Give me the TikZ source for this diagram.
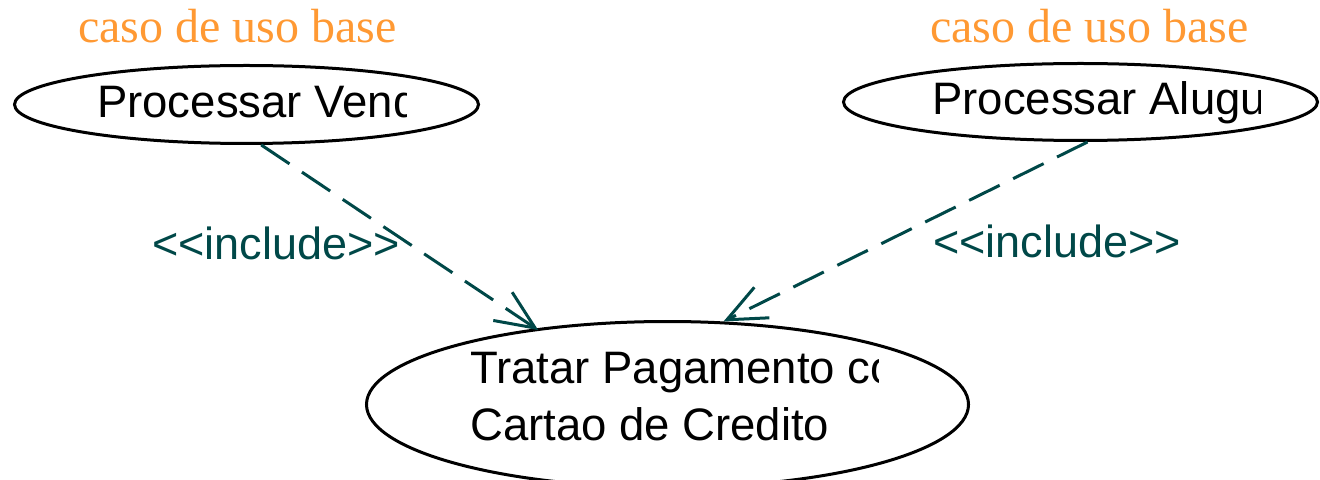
\documentclass[tikz,border=0pt]{standalone}
\usepackage{fontspec}
\setmainfont{Liberation Sans}
\newfontfamily\seriffam{Liberation Serif}
\usetikzlibrary{arrows.meta,shapes.geometric}
\definecolor{inclteal}{RGB}{0,72,72}
\definecolor{noteorange}{RGB}{255,153,51}
\begin{document}
\begin{tikzpicture}[x=1bp,y=-1bp,
  uc/.style={draw=black, line width=3bp, ellipse, inner sep=0pt},
  uctext/.style={anchor=base west, inner sep=0pt, font=\fontsize{45.5bp}{54bp}\selectfont},
  note/.style={anchor=base west, inner sep=0pt, text=noteorange, font=\seriffam\fontsize{48bp}{57bp}\selectfont},
  stereo/.style={anchor=base west, inner sep=0pt, text=inclteal, font=\fontsize{45bp}{54bp}\selectfont},
  incl/.style={draw=inclteal, line width=3bp, dash pattern=on 34bp off 15bp,
    -{Straight Barb[length=39bp,width=34bp]}}]
\useasboundingbox (0,0) rectangle (1320,480);

% use case ellipses
\node[uc, minimum width=464bp, minimum height=78bp] (v) at (246.5,104.5) {};
\node[uc, minimum width=474bp, minimum height=77bp] (a) at (1080.5,102) {};
\node[uc, minimum width=602bp, minimum height=166bp] (p) at (667.5,404.5) {};

% clipped use case names
\begin{scope}
  \clip (0,0) rectangle (406,480);
  \node[uctext] (vt) at (97,118) {Processar Venda};
\end{scope}
\begin{scope}
  \clip (0,0) rectangle (1260,480);
  \node[uctext] (at) at (932,115) {Processar Aluguel};
\end{scope}
\begin{scope}
  \clip (0,0) rectangle (878,480);
  \node[uctext] (pt1) at (470,383) {Tratar Pagamento com};
\end{scope}
\node[uctext] (pt2) at (470,440) {Cartao de Credito};

% notes
\node[note] (n1) at (78,43) {caso de uso base};
\node[note] (n2) at (930,43) {caso de uso base};

% stereotypes
\node[stereo] (s1) at (152,260) {<\kern0pt<include>\kern0pt>};
\node[stereo] (s2) at (933,258) {<\kern0pt<include>\kern0pt>};

% include relations
\draw[incl, shorten >=-3bp] (v.-70) -- (p.150);
\draw[incl] (a.-80) -- (p.56);
\end{tikzpicture}
\end{document}
